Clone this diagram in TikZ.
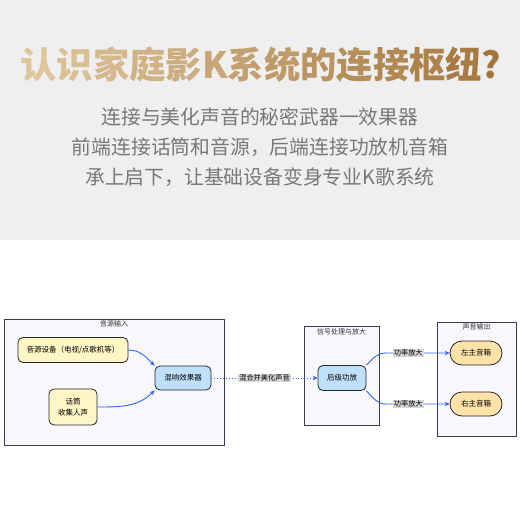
\documentclass[tikz,border=0pt]{standalone}
\usepackage{fontspec}
\newfontfamily\cjk{Noto Sans CJK SC}
\usetikzlibrary{arrows.meta,shadows}
\definecolor{bandgray}{HTML}{EFEFEF}
\definecolor{goldlight}{HTML}{DEC59C}
\definecolor{golddark}{HTML}{A4763E}
\definecolor{subgray}{HTML}{787878}
\definecolor{groupfill}{HTML}{F8F8FC}
\definecolor{groupline}{HTML}{3A3A50}
\definecolor{srcfill}{HTML}{FFF6C6}
\definecolor{fxfill}{HTML}{BFE0FA}
\definecolor{spkfill}{HTML}{FFE2A8}
\definecolor{flowblue}{HTML}{2F66F5}
\definecolor{lblgray}{HTML}{D6D6D6}
\tikzset{
  group/.style={draw=groupline, line width=0.9pt, fill=groupfill,
    drop shadow={opacity=0.18, shadow xshift=1.2pt, shadow yshift=-1.2pt}},
  grouptitle/.style={font=\cjk\fontsize{7}{8}\selectfont, text=black!80, below, inner sep=1.5pt},
  box/.style={draw=black!85, line width=0.8pt, rounded corners=5pt,
    font=\cjk\fontsize{7.5}{11}\selectfont, align=center, inner sep=0pt},
  flow/.style={draw=flowblue, line width=0.9pt, -{Stealth[length=5pt,width=4.5pt]}},
  dotflow/.style={flow, dotted},
  lbl/.style={fill=lblgray, font=\cjk\fontsize{7.2}{8}\selectfont, inner sep=1pt}
}
\begin{document}
\begin{tikzpicture}[x=1pt,y=-1pt]
  \useasboundingbox (0,0) rectangle (520,520);
  \fill[bandgray] (0,0) rectangle (520,240);
  % title with gold gradient
  \node (title) at (261,65) {\cjk\bfseries\fontsize{36.3}{40}\selectfont
    \foreach \ch [count=\i] in {认,识,家,庭,影,K,系,统,的,连,接,枢,纽,?}{%
      \pgfmathtruncatemacro\mix{100-(\i-1)*100/13}%
      \textcolor{goldlight!\mix!golddark}{\ch}}};
  \node[font=\cjk\fontsize{19.8}{30}\selectfont, text=subgray, align=center] (sub) at (260,147)
    {连接与美化声音的秘密武器一效果器\\前端连接话筒和音源，后端连接功放机音箱\\承上启下，让基础设备变身专业K歌系统};
  % groups
  \node[group, minimum width=220pt, minimum height=126pt] (inbox) at (114,382) {};
  \node[grouptitle] (intitle) at (inbox.north) {音源输入};
  \node[group, minimum width=75pt, minimum height=99pt] (procbox) at (341.5,375.5) {};
  \node[grouptitle, yshift=-1pt] (proctitle) at (procbox.north) {信号处理与放大};
  \node[group, minimum width=79pt, minimum height=114pt] (outbox) at (476.5,379) {};
  \node[grouptitle] (outtitle) at (outbox.north) {声音输出};
  % nodes
  \node[box, fill=srcfill, minimum width=110pt, minimum height=25pt] (src) at (73,350) {音源设备（电视/点歌机等）};
  \node[box, fill=srcfill, minimum width=48pt, minimum height=36pt] (mic) at (73,407) {话筒\\收集人声};
  \node[box, fill=fxfill, minimum width=56pt, minimum height=24pt] (fx) at (183,378) {混响效果器};
  \node[box, fill=fxfill, minimum width=48pt, minimum height=25pt] (amp) at (342,378) {后级功放};
  \node[box, fill=spkfill, rounded corners=12pt, minimum width=52pt, minimum height=24pt] (spkL) at (476,353) {左主音箱};
  \node[box, fill=spkfill, rounded corners=12pt, minimum width=52pt, minimum height=24pt] (spkR) at (476,404) {右主音箱};
  \coordinate (kneeL) at (386,353);
  \coordinate (kneeR) at (386,404);
  % connectors
  \draw[flow] (src.east) to[out=0,in=135] (fx.north west);
  \draw[flow] (mic.east) to[out=0,in=-135] (fx.south west);
  \draw[dotflow] (fx) -- node[lbl] {混合并美化声音} (amp);
  \draw[flow] (amp.north east) to[out=45,in=180] (kneeL) -- node[lbl, pos=0.35] {功率放大} (spkL.west);
  \draw[flow] (amp.south east) to[out=-45,in=180] (kneeR) -- node[lbl, pos=0.35] {功率放大} (spkR.west);
\end{tikzpicture}
\end{document}
